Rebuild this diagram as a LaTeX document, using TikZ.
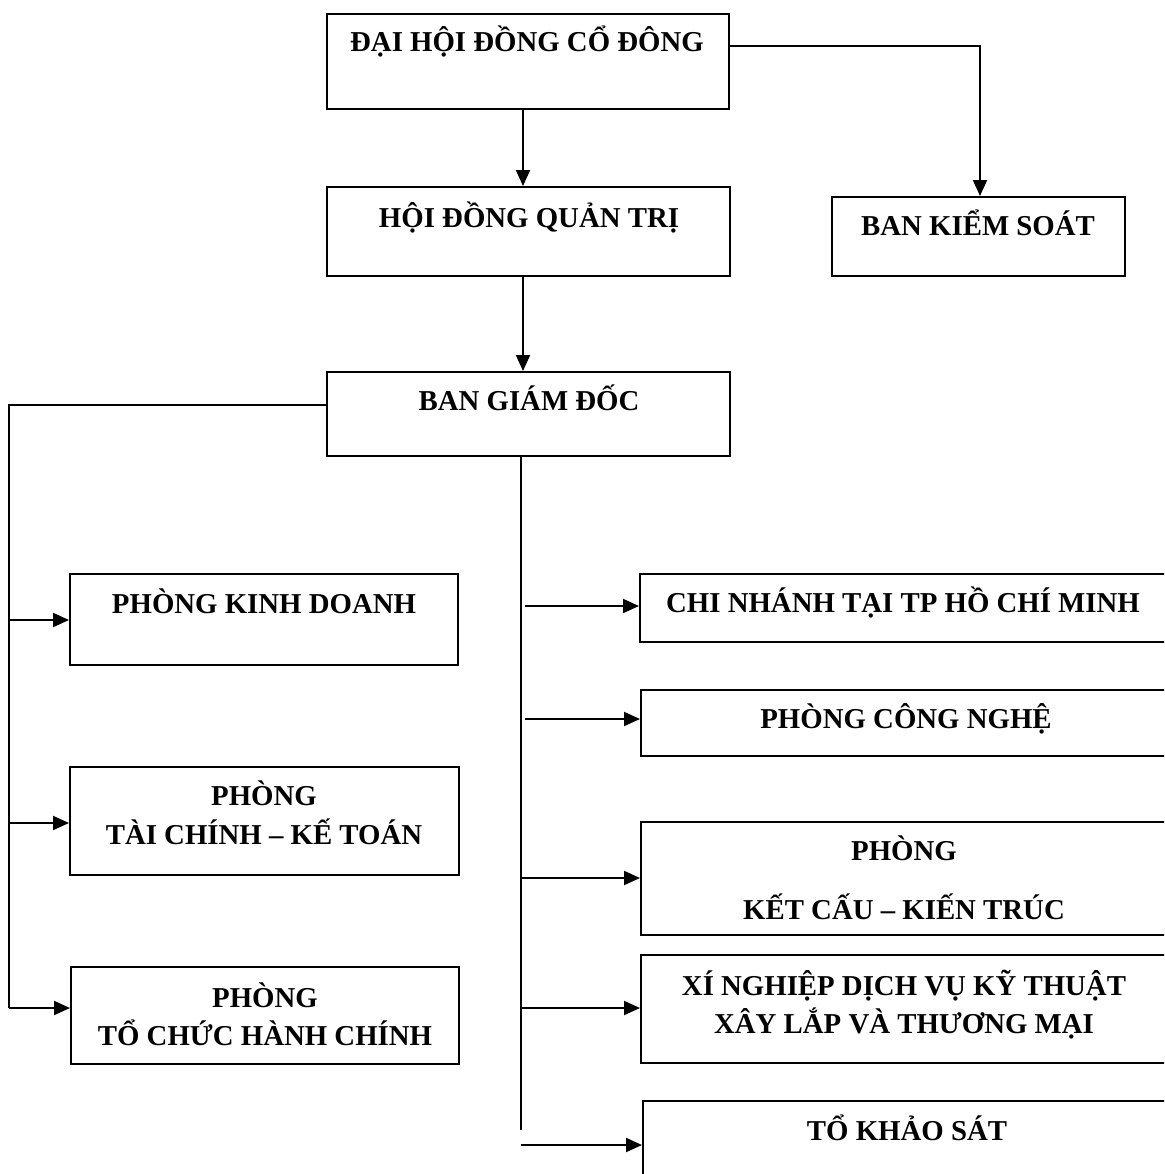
\documentclass[tikz,border=0pt]{standalone}
\usepackage{fontspec}
\setmainfont{Liberation Serif}
\usetikzlibrary{fit,arrows.meta}
\begin{document}
\begin{tikzpicture}[x=0.5pt,y=-0.5pt,
  box/.style={draw=black, line width=1pt, inner sep=0pt, fill=none},
  lbl/.style={font=\fontsize{14.4}{18}\selectfont\bfseries, anchor=base, inner sep=0pt},
  conn/.style={draw=black, line width=1pt},
  arr/.style={conn, -{Triangle[length=8pt,width=7pt]}}]
\useasboundingbox (0,0) rectangle (1164,1174);
\clip (0,0) rectangle (1164,1174);
% boxes
\node[box, fit={(327,14) (729,109)}] (dh) {};
\node[box, fit={(327,187) (730,276)}] (hd) {};
\node[box, fit={(832,197) (1125,276)}] (bks) {};
\node[box, fit={(327,372) (730,456)}] (bgd) {};
\node[box, fit={(70,574) (458,665)}] (pkd) {};
\node[box, fit={(70,767) (459,875)}] (tckt) {};
\node[box, fit={(71,967) (459,1064)}] (tchc) {};
\node[box, fit={(640,574) (1170,642)}] (cn) {};
\node[box, fit={(641,690) (1170,756)}] (cng) {};
\node[box, fit={(641,822) (1170,935)}] (kc) {};
\node[box, fit={(641,955) (1170,1063)}] (xn) {};
\node[box, fit={(643,1101) (1170,1200)}] (tks) {};
% texts
\node[lbl] (t1) at (527,51) {ĐẠI HỘI ĐỒNG CỔ ĐÔNG};
\node[lbl] (t2) at (529,227) {HỘI ĐỒNG QUẢN TRỊ};
\node[lbl] (t3) at (978,235) {BAN KIỂM SOÁT};
\node[lbl] (t4) at (529,410) {BAN GIÁM ĐỐC};
\node[lbl] (t5) at (264,613) {PHÒNG KINH DOANH};
\node[lbl] (t6a) at (264,805) {PHÒNG};
\node[lbl] (t6b) at (264,844) {TÀI CHÍNH – KẾ TOÁN};
\node[lbl] (t7a) at (265,1007) {PHÒNG};
\node[lbl] (t7b) at (265,1045) {TỔ CHỨC HÀNH CHÍNH};
\node[lbl] (t8) at (903,612) {CHI NHÁNH TẠI TP HỒ CHÍ MINH};
\node[lbl] (t9) at (906,728) {PHÒNG CÔNG NGHỆ};
\node[lbl] (t10a) at (904,860) {PHÒNG};
\node[lbl] (t10b) at (904,919) {KẾT CẤU – KIẾN TRÚC};
\node[lbl] (t11a) at (904,995) {XÍ NGHIỆP DỊCH VỤ KỸ THUẬT};
\node[lbl] (t11b) at (904,1033) {XÂY LẮP VÀ THƯƠNG MẠI};
\node[lbl] (t12) at (907,1140) {TỔ KHẢO SÁT};
% coordinates
\coordinate (dhR) at (dh.east |- 0,46);
\coordinate (bksTop) at (980,0 |- bks.north);
\coordinate (dhB) at (523,0 |- dh.south);
\coordinate (hdT) at (523,0 |- hd.north);
\coordinate (hdB) at (523,0 |- hd.south);
\coordinate (bgdT) at (523,0 |- bgd.north);
\coordinate (bgdL) at (bgd.west |- 0,405);
\coordinate (lt) at (9,405);
\coordinate (lb) at (9,1008);
\coordinate (bgdB) at (521,0 |- bgd.south);
\coordinate (trB) at (521,1130);
% connectors
\draw[arr] (dhR) -| (bksTop);
\draw[arr] (dhB) -- (hdT);
\draw[arr] (hdB) -- (bgdT);
\draw[conn] (bgdL) -- (lt) -- (lb);
\draw[arr] (9,620) -- (pkd.west |- 0,620);
\draw[arr] (9,823) -- (tckt.west |- 0,823);
\draw[arr] (lb) -- (tchc.west |- lb);
\draw[conn] (bgdB) -- (trB);
\draw[arr] (525,606) -- (cn.west |- 0,606);
\draw[arr] (525,719) -- (cng.west |- 0,719);
\draw[arr] (521,878) -- (kc.west |- 0,878);
\draw[arr] (521,1008) -- (xn.west |- 0,1008);
\draw[arr] (521,1145) -- (tks.west |- 0,1145);
\end{tikzpicture}
\end{document}
